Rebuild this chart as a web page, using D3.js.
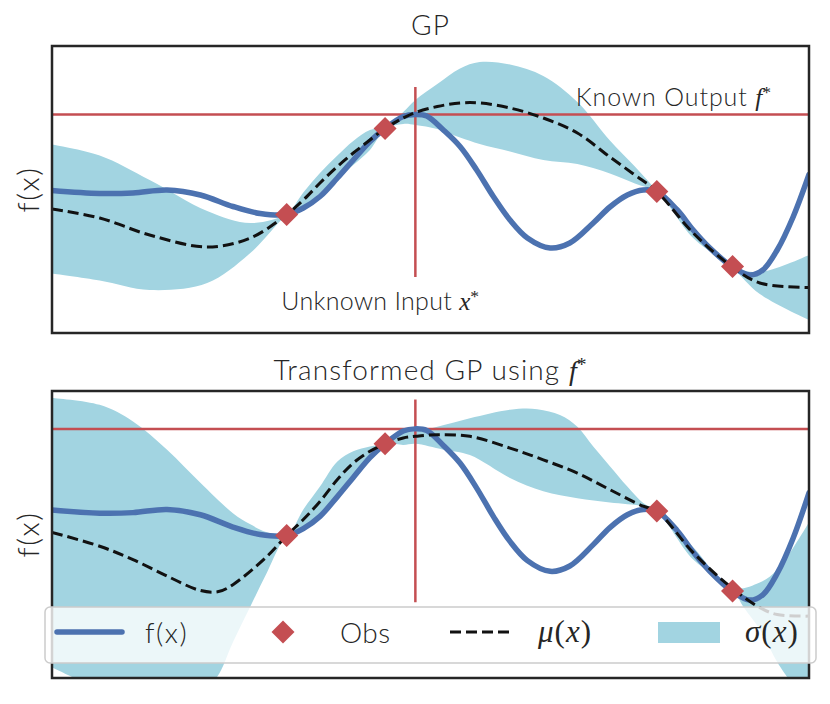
<!DOCTYPE html>
<html>
<head>
<meta charset="utf-8">
<script src="https://cdn.jsdelivr.net/npm/d3@7"></script>
<style>
  body { margin: 0; background: #fff; }
</style>
</head>
<body>
<div id="chart"></div>
<script>
// ---- data (x in [0,10], values in f units) ----
const xDomain = [0, 10];
const fStar = 2.0;
const xStar = 4.8;
const xStarSpan = [-1.25, 2.55];

const obsX = [3.10, 4.40, 7.99, 8.99];
const obsY = [0.0, 1.72, 0.46, -1.04];

// true function f(x)
const fX = [0, 0.63, 1.07, 1.52, 1.96, 2.39, 2.75, 3.10, 3.32, 3.54, 3.77, 3.98, 4.20, 4.40, 4.64, 4.80, 4.95, 5.17, 5.39, 5.61, 5.83, 6.05, 6.28, 6.58, 6.84, 7.15, 7.37, 7.60, 7.81, 7.99, 8.26, 8.47, 8.69, 8.98, 9.22, 9.39, 9.58, 9.79, 10.0];
const fY = [0.48, 0.42, 0.43, 0.49, 0.39, 0.16, 0.02, 0.0, 0.13, 0.36, 0.73, 1.09, 1.46, 1.72, 1.96, 2.0, 1.97, 1.69, 1.36, 0.89, 0.36, -0.11, -0.47, -0.67, -0.57, -0.17, 0.15, 0.39, 0.49, 0.46, 0.09, -0.31, -0.67, -1.04, -1.21, -1.11, -0.71, -0.05, 0.80];

// plain GP: mean and 2 sigma
const muX = [0, 0.63, 1.29, 2.05, 2.62, 3.10, 3.32, 3.54, 3.77, 3.98, 4.20, 4.40, 4.64, 4.80, 5.09, 5.39, 5.65, 6.05, 6.49, 6.94, 7.37, 7.70, 7.99, 8.47, 8.98, 9.35, 10.0];
const muY = [0.11, -0.07, -0.41, -0.65, -0.47, 0.0, 0.29, 0.63, 0.96, 1.23, 1.49, 1.72, 1.93, 2.04, 2.16, 2.23, 2.23, 2.13, 1.93, 1.63, 1.15, 0.79, 0.46, -0.37, -1.04, -1.37, -1.46];
const sdY = [1.29, 1.25, 1.10, 0.72, 0.30, 0.02, 0.15, 0.20, 0.22, 0.24, 0.20, 0.02, 0.12, 0.25, 0.45, 0.69, 0.82, 0.87, 0.84, 0.62, 0.33, 0.17, 0.02, 0.10, 0.02, 0.22, 0.65];

// transformed GP: mean, upper and lower bounds
const tMuX = [0, 0.63, 1.07, 1.52, 1.96, 2.20, 2.39, 2.84, 3.10, 3.32, 3.54, 3.77, 3.98, 4.20, 4.40, 4.64, 4.80, 5.09, 5.52, 6.05, 6.49, 6.94, 7.37, 7.81, 7.99, 8.47, 8.98, 9.35, 9.58, 10.0];
const tMuY = [0.06, -0.20, -0.45, -0.76, -1.03, -1.05, -0.92, -0.39, 0.0, 0.30, 0.64, 1.05, 1.36, 1.58, 1.72, 1.83, 1.86, 1.89, 1.86, 1.64, 1.42, 1.17, 0.86, 0.55, 0.46, -0.32, -0.98, -1.35, -1.48, -1.51];
const tUpX = [0, 0.63, 1.07, 1.52, 1.96, 2.39, 2.62, 2.84, 3.10, 3.32, 3.54, 3.77, 3.98, 4.20, 4.40, 4.64, 4.80, 5.09, 5.52, 6.05, 6.41, 6.71, 6.94, 7.15, 7.37, 7.60, 7.81, 7.99, 8.47, 8.98, 9.35, 9.58, 10.0];
const tUpY = [2.58, 2.45, 2.14, 1.61, 0.99, 0.42, 0.21, 0.06, 0.0, 0.49, 0.92, 1.39, 1.58, 1.67, 1.72, 1.92, 1.95, 2.04, 2.20, 2.36, 2.37, 2.26, 2.04, 1.67, 1.30, 0.92, 0.61, 0.46, -0.22, -0.98, -0.88, -0.64, 0.25];
const tLoX = [0, 0.63, 1.29, 1.96, 2.18, 2.39, 2.62, 2.84, 3.10, 3.32, 3.54, 3.77, 3.98, 4.20, 4.40, 4.64, 4.80, 5.17, 5.52, 6.05, 6.49, 6.94, 7.37, 7.81, 7.99, 8.47, 8.98, 9.13, 9.35, 9.58, 9.71, 10.0];
const tLoY = [-2.47, -2.88, -3.16, -2.92, -2.65, -2.0, -1.33, -0.69, 0.0, 0.17, 0.36, 0.74, 1.14, 1.51, 1.72, 1.70, 1.72, 1.61, 1.51, 1.08, 0.83, 0.70, 0.62, 0.55, 0.46, -0.45, -0.98, -1.33, -1.76, -2.37, -2.65, -3.25];

const yDomainTop = [-2.37, 3.37];
const yDomainBottom = [-2.67, 2.71];

const legendLabels = ["f(x)", "Obs", "μ", "σ"];

// ---- style ----
const W = 830, H = 704;
const left = 52, right = 809;
const panels = [
  { top: 46, bottom: 333, domain: yDomainTop, title: "GP" },
  { top: 391, bottom: 678, domain: yDomainBottom, title: "Transformed GP using " }
];
const blue = "#4c72b0", red = "#c44e52", bandColor = "#a2d4e1", ink = "#262626";
const sans = "Lato, 'Open Sans', sans-serif";
const serif = "'Liberation Serif', 'DejaVu Serif', serif";

const svg = d3.select("#chart").append("svg")
  .attr("width", W).attr("height", H)
  .style("font-family", sans)
  .style("font-weight", 300);

const x = d3.scaleLinear().domain(xDomain).range([left, right]);
const curve = d3.curveCatmullRom.alpha(0.5);

function pairs(xs, ys) { return xs.map((d, i) => [d, ys[i]]); }

// append "f*" / "x*" style math to a text element
function mathStar(text, letter) {
  text.append("tspan").attr("font-family", serif).attr("font-style", "italic")
    .attr("font-weight", 400).attr("letter-spacing", 0).text(letter);
  text.append("tspan").attr("font-family", serif).attr("font-size", "0.7em")
    .attr("font-weight", 400).attr("dy", "-0.45em").text("*");
}

panels.forEach((p, i) => {
  const y = d3.scaleLinear().domain(p.domain).range([p.bottom, p.top]);
  const line = d3.line().x(d => x(d[0])).y(d => y(d[1])).curve(curve);
  const g = svg.append("g");

  const clipId = "clip" + i;
  svg.append("clipPath").attr("id", clipId)
    .append("rect").attr("x", left).attr("y", p.top)
    .attr("width", right - left).attr("height", p.bottom - p.top);
  const plot = g.append("g").attr("clip-path", "url(#" + clipId + ")");

  // uncertainty band
  if (i === 0) {
    const area = d3.area().x(d => x(d[0]))
      .y0(d => y(d[1] - d[2])).y1(d => y(d[1] + d[2])).curve(curve);
    plot.append("path")
      .attr("d", area(muX.map((d, k) => [d, muY[k], sdY[k]])))
      .attr("fill", bandColor);
  } else {
    const up = line(pairs(tUpX, tUpY));
    const lo = line(pairs(tLoX, tLoY).reverse());
    plot.append("path")
      .attr("d", up + lo.replace(/^M/, "L") + "Z")
      .attr("fill", bandColor);
  }

  // known output / unknown input
  plot.append("line")
    .attr("x1", x(xDomain[0])).attr("x2", x(xDomain[1]))
    .attr("y1", y(fStar)).attr("y2", y(fStar))
    .attr("stroke", red).attr("stroke-width", 2.5);
  plot.append("line")
    .attr("x1", x(xStar)).attr("x2", x(xStar))
    .attr("y1", y(xStarSpan[0])).attr("y2", y(xStarSpan[1]))
    .attr("stroke", red).attr("stroke-width", 2.5);

  // f(x)
  plot.append("path").attr("d", line(pairs(fX, fY)))
    .attr("fill", "none").attr("stroke", blue).attr("stroke-width", 5.5)
    .attr("stroke-linecap", "round");

  // mean
  const mx = i === 0 ? muX : tMuX, my = i === 0 ? muY : tMuY;
  plot.append("path").attr("d", line(pairs(mx, my)))
    .attr("fill", "none").attr("stroke", "#111").attr("stroke-width", 3)
    .attr("stroke-dasharray", "11,5");

  // observations
  plot.selectAll(".obs").data(pairs(obsX, obsY)).enter()
    .append("path")
    .attr("d", d3.symbol().type(d3.symbolSquare).size(265))
    .attr("transform", d => "translate(" + x(d[0]) + "," + y(d[1]) + ") rotate(45)")
    .attr("fill", red);

  // frame
  g.append("rect").attr("x", left).attr("y", p.top)
    .attr("width", right - left).attr("height", p.bottom - p.top)
    .attr("fill", "none").attr("stroke", ink).attr("stroke-width", 2.5);

  // title
  const t = g.append("text").attr("x", (left + right) / 2).attr("y", p.top - 11)
    .attr("text-anchor", "middle").attr("font-size", 28).attr("fill", ink)
    .attr("letter-spacing", 1.1)
    .text(p.title);
  if (i === 1) mathStar(t, "f");

  // y label
  g.append("text")
    .attr("transform", "translate(39," + (p.top + p.bottom) / 2 + ") rotate(-90)")
    .attr("text-anchor", "middle").attr("font-size", 30).attr("fill", ink)
    .attr("letter-spacing", 1.5)
    .text("f(x)");

  if (i === 0) {
    const a1 = g.append("text").attr("x", x(3.03)).attr("y", y(-1.91))
      .attr("font-size", 25).attr("fill", ink).attr("letter-spacing", 0.3)
      .text("Unknown Input ");
    mathStar(a1, "x");
    const a2 = g.append("text").attr("x", x(6.92)).attr("y", y(2.17))
      .attr("font-size", 25).attr("fill", ink).attr("letter-spacing", 0.9)
      .text("Known Output ");
    mathStar(a2, "f");
  }
});

// ---- legend ----
const lg = svg.append("g");
lg.append("rect").attr("x", 45).attr("y", 607).attr("width", 771).attr("height", 56)
  .attr("rx", 5).attr("fill", "#fff").attr("fill-opacity", 0.8)
  .attr("stroke", "#ccc").attr("stroke-width", 1.5);
const ly = 632;
lg.append("line").attr("x1", 57).attr("x2", 122).attr("y1", ly).attr("y2", ly)
  .attr("stroke", blue).attr("stroke-width", 5.5).attr("stroke-linecap", "round");
lg.append("text").attr("x", 145).attr("y", ly + 11).attr("font-size", 28).attr("fill", ink)
  .attr("letter-spacing", 1.5).text(legendLabels[0]);
lg.append("path").attr("d", d3.symbol().type(d3.symbolSquare).size(265))
  .attr("transform", "translate(283," + ly + ") rotate(45)").attr("fill", red);
lg.append("text").attr("x", 340).attr("y", ly + 11).attr("font-size", 28).attr("fill", ink)
  .attr("letter-spacing", 0.5).text(legendLabels[1]);
lg.append("line").attr("x1", 450).attr("x2", 512).attr("y1", ly).attr("y2", ly)
  .attr("stroke", "#111").attr("stroke-width", 3).attr("stroke-dasharray", "11,5");
lg.append("rect").attr("x", 658).attr("y", 622).attr("width", 62).attr("height", 21)
  .attr("fill", bandColor);

function mathLabel(xPos, sym) {
  const t = lg.append("text").attr("x", xPos).attr("y", ly + 10)
    .attr("font-size", 31).attr("fill", ink).attr("font-family", serif)
    .attr("font-weight", 400).attr("letter-spacing", 1);
  t.append("tspan").attr("font-style", "italic").text(sym);
  t.append("tspan").text("(");
  t.append("tspan").attr("font-style", "italic").text("x");
  t.append("tspan").text(")");
}
mathLabel(538, legendLabels[2]);
mathLabel(745, legendLabels[3]);
</script>
</body>
</html>
